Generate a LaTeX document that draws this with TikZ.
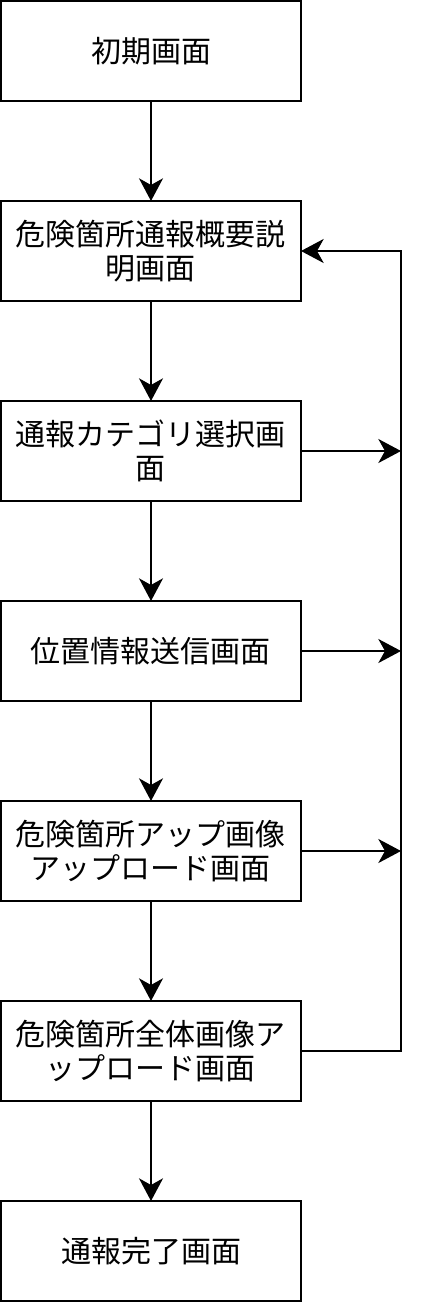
\documentclass[tikz,border=0pt]{standalone}
\usepackage{fontspec}
\setmainfont{Noto Sans CJK JP}
\usetikzlibrary{arrows.meta,positioning}

\begin{document}
\begin{tikzpicture}[node distance=75pt,font=\fontsize{22.5pt}{26pt}\selectfont,line width=1.6pt,
      scr/.style={draw,outer sep=0pt,minimum width=225pt,minimum height=75pt,align=center},
      a/.style={-{Stealth[length=17pt,width=18pt,inset=5pt]}}]
      \useasboundingbox (0,0) rectangle (317.25pt,-977.25pt);
      \node[scr] (s0) at (113.25pt,-38.25pt) {初期画面};
      \node[scr,below=of s0] (s1) {危険箇所通報概要説\\明画面};
      \node[scr,below=of s1] (s2) {通報カテゴリ選択画\\面};
      \node[scr,below=of s2] (s3) {位置情報送信画面};
      \node[scr,below=of s3] (s4) {危険箇所アップ画像\\アップロード画面};
      \node[scr,below=of s4] (s5) {危険箇所全体画像ア\\ップロード画面};
      \node[scr,below=of s5] (s6) {通報完了画面};
      \draw[a] (s0)--(s1); \draw[a] (s1)--(s2); \draw[a] (s2)--(s3);
      \draw[a] (s3)--(s4); \draw[a] (s4)--(s5); \draw[a] (s5)--(s6);
      % back to the overview screen
      \draw[a] (s5.east) -- ++(75pt,0) |- (s1.east);
      \draw[a] (s2.east) -- ++(75pt,0); \draw[a] (s3.east) -- ++(75pt,0); \draw[a] (s4.east) -- ++(75pt,0);
    \end{tikzpicture}
\end{document}
